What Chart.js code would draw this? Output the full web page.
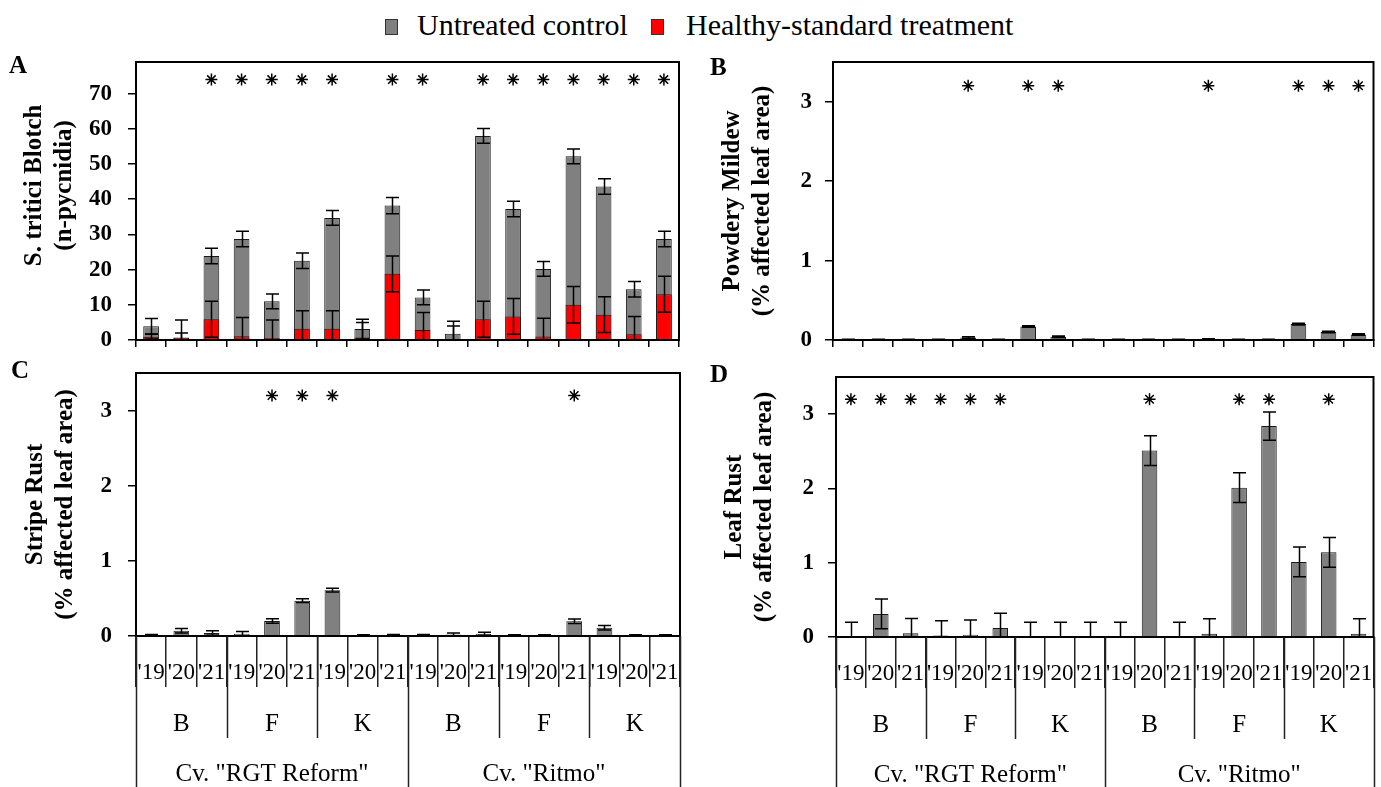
<!DOCTYPE html>
<html><head><meta charset="utf-8">
<script src="https://cdn.jsdelivr.net/npm/chart.js@4.4.0/dist/chart.umd.min.js"></script>
<style>
html,body{margin:0;padding:0;background:#fff;}
body{width:1381px;height:787px;overflow:hidden;position:relative;font-family:"Liberation Serif",serif;color:#000;}
canvas.cv{position:absolute;}
.pl{position:absolute;font-weight:bold;font-size:25px;line-height:24px;}
.sw{position:absolute;width:11px;height:14px;border:1px solid #333;top:19px;}
.lt{position:absolute;font-size:30px;line-height:32px;top:9px;white-space:nowrap;}
</style></head>
<body>
<div class="sw" style="left:385px;background:#808080"></div><div class="lt" style="left:417px">Untreated control</div>
<div class="sw" style="left:651px;background:#ff0000"></div><div class="lt" style="left:686px">Healthy-standard treatment</div>

<canvas id="cA" class="cv" style="left:0;top:40px" width="690" height="320"></canvas>
<canvas id="cB" class="cv" style="left:690px;top:40px" width="691" height="320"></canvas>
<canvas id="cC" class="cv" style="left:0;top:345px" width="690" height="442"></canvas>
<canvas id="cD" class="cv" style="left:690px;top:345px" width="691" height="442"></canvas>

<div class="pl" style="left:9px;top:53px">A</div>
<div class="pl" style="left:710px;top:55px">B</div>
<div class="pl" style="left:11px;top:358px">C</div>
<div class="pl" style="left:710px;top:362px">D</div>

<script>
// ---- categories ----
const years = ["'19", "'20", "'21"];
const locations = ["B", "F", "K"];
const cultivars = ['Cv. "RGT Reform"', 'Cv. "Ritmo"'];
const categories = [];
cultivars.forEach(() => locations.forEach(() => years.forEach(y => categories.push(y))));

// ---- A: S. tritici Blotch (n-pycnidia) ----
const stbControl    = [3.9, 0.7, 23.9, 28.7, 11.0, 22.5, 34.7, 3.1, 38.2, 12.1, 1.8, 58.0, 37.2, 20.2, 52.2, 43.6, 14.4, 28.7];
const stbControlErr = [2.2, 5.0, 2.2, 2.2, 2.1, 2.2, 2.1, 2.8, 2.3, 2.1, 3.5, 2.1, 2.2, 2.1, 2.1, 2.2, 2.2, 2.2];
const stbTreated    = [0.95, 0.6, 5.9, 1.1, 0.6, 3.2, 3.2, 0.7, 18.8, 2.85, 0.2, 5.9, 6.7, 1.0, 10.0, 7.2, 1.6, 13.0];
const stbTreatedErr = [0.7, 1.4, 5.1, 5.3, 5.1, 5.1, 5.1, 4.3, 5.1, 5.0, 3.8, 5.1, 5.1, 5.2, 5.2, 5.1, 5.1, 5.1];
const stbSig        = [0, 0, 1, 1, 1, 1, 1, 0, 1, 1, 0, 1, 1, 1, 1, 1, 1, 1];

// ---- B: Powdery Mildew (% affected leaf area) ----
const pmControl    = [0.005, 0.005, 0.005, 0.005, 0.03, 0.005, 0.17, 0.04, 0.005, 0.005, 0.005, 0.005, 0.012, 0.005, 0.005, 0.2, 0.1, 0.07];
const pmControlErr = [0.005, 0.005, 0.005, 0.005, 0.01, 0.005, 0.01, 0.01, 0.005, 0.005, 0.005, 0.005, 0.005, 0.005, 0.005, 0.01, 0.01, 0.01];
const pmTreated    = [0, 0, 0, 0, 0, 0, 0, 0, 0, 0, 0, 0, 0, 0, 0, 0, 0, 0];
const pmTreatedErr = [0, 0, 0, 0, 0, 0, 0, 0, 0, 0, 0, 0, 0, 0, 0, 0, 0, 0];
const pmSig        = [0, 0, 0, 0, 1, 0, 1, 1, 0, 0, 0, 0, 1, 0, 0, 1, 1, 1];

// ---- C: Stripe Rust (% affected leaf area) ----
const srControl    = [0.01, 0.07, 0.04, 0.03, 0.2, 0.47, 0.61, 0.01, 0.01, 0.01, 0.02, 0.03, 0.01, 0.01, 0.195, 0.11, 0.01, 0.01];
const srControlErr = [0.01, 0.03, 0.03, 0.03, 0.03, 0.025, 0.025, 0.005, 0.01, 0.01, 0.02, 0.02, 0.005, 0.005, 0.03, 0.03, 0.005, 0.005];
const srTreated    = [0, 0, 0, 0, 0, 0, 0, 0, 0, 0, 0, 0, 0, 0, 0, 0, 0, 0];
const srTreatedErr = [0, 0, 0, 0, 0, 0, 0, 0, 0, 0, 0, 0, 0, 0, 0, 0, 0, 0];
const srSig        = [0, 0, 0, 0, 1, 1, 1, 0, 0, 0, 0, 0, 0, 0, 1, 0, 0, 0];

// ---- D: Leaf Rust (% affected leaf area) ----
const lrControl    = [0.01, 0.31, 0.05, 0.02, 0.03, 0.12, 0.01, 0.01, 0.01, 0.01, 2.51, 0.01, 0.045, 2.01, 2.84, 1.01, 1.14, 0.045];
const lrControlErr = [0.19, 0.2, 0.2, 0.2, 0.2, 0.2, 0.19, 0.19, 0.19, 0.19, 0.2, 0.19, 0.2, 0.2, 0.19, 0.2, 0.2, 0.2];
const lrTreated    = [0, 0, 0, 0, 0, 0, 0, 0, 0, 0, 0, 0, 0, 0, 0, 0, 0, 0];
const lrTreatedErr = [0, 0, 0, 0, 0, 0, 0, 0, 0, 0, 0, 0, 0, 0, 0, 0, 0, 0];
const lrSig        = [1, 1, 1, 1, 1, 1, 0, 0, 0, 0, 1, 0, 0, 1, 1, 0, 1, 0];

const FONT = '"Liberation Serif", "Times New Roman", serif';
const NB = '\u00A0';

const errorBars = {
  id: 'errorBars',
  afterDatasetsDraw(chart) {
    const { ctx, chartArea: a, scales: { y } } = chart;
    ctx.save();
    ctx.beginPath();
    ctx.rect(a.left, a.top - 1, a.right - a.left, a.bottom - a.top + 1);
    ctx.clip();
    ctx.strokeStyle = '#000';
    ctx.lineWidth = 1.5;
    chart.data.datasets.forEach((ds, i) => {
      if (!ds.errors) return;
      const meta = chart.getDatasetMeta(i);
      meta.data.forEach((bar, j) => {
        const e = ds.errors[j];
        if (!e) return;
        const v = ds.data[j];
        const yt = y.getPixelForValue(v + e), yb = y.getPixelForValue(v - e);
        const x = Math.round(bar.x) + 0.5, hw = 6.5;
        ctx.beginPath();
        ctx.moveTo(x, yt); ctx.lineTo(x, yb);
        ctx.moveTo(x - hw, yt); ctx.lineTo(x + hw, yt);
        ctx.moveTo(x - hw, yb); ctx.lineTo(x + hw, yb);
        ctx.stroke();
      });
    });
    ctx.restore();
  }
};

const frame = {
  id: 'frame',
  afterDraw(chart) {
    const { ctx, chartArea: a } = chart;
    ctx.save();
    ctx.strokeStyle = '#000';
    ctx.lineWidth = 2;
    ctx.strokeRect(a.left, a.top, a.right - a.left, a.bottom - a.top);
    ctx.restore();
  }
};

const groupAxis = {
  id: 'groupAxis',
  afterDraw(chart) {
    const { ctx, scales: { x } } = chart;
    const n = categories.length;
    const step = x.getPixelForValue(1) - x.getPixelForValue(0);
    const edge = k => x.getPixelForValue(k) - step / 2;
    const top = x.top;
    const perCult = locations.length * years.length;
    ctx.save();
    ctx.strokeStyle = '#222';
    ctx.lineWidth = 1.5;
    for (let k = 0; k <= n; k += years.length) {
      const px = Math.round(edge(k)) + 0.5;
      ctx.beginPath();
      ctx.moveTo(px, top);
      ctx.lineTo(px, k % perCult === 0 ? x.bottom : top + 102);
      ctx.stroke();
    }
    ctx.fillStyle = '#000';
    ctx.font = '25px ' + FONT;
    ctx.textAlign = 'center';
    ctx.textBaseline = 'middle';
    cultivars.forEach((c, ci) => {
      locations.forEach((l, li) => {
        const s = (ci * locations.length + li) * years.length;
        const cx = (x.getPixelForValue(s) + x.getPixelForValue(s + years.length - 1)) / 2;
        ctx.fillText(l, cx, top + 88);
      });
      const s = ci * perCult;
      const cx = (x.getPixelForValue(s) + x.getPixelForValue(s + perCult - 1)) / 2;
      ctx.fillText(c, cx, top + 138);
    });
    ctx.restore();
  }
};

function makePanel(id, p) {
  const datasets = [
    { label: 'Untreated control', data: p.ctrl, errors: p.ctrlErr, backgroundColor: '#808080', borderColor: '#1a1a1a',
      borderWidth: 1, grouped: false, order: 2, barPercentage: 0.52, categoryPercentage: 1 },
    { label: 'Healthy-standard treatment', data: p.trt, errors: p.trtErr, backgroundColor: '#ff0000', borderColor: '#1a1a1a',
      borderWidth: 1, grouped: false, order: 1, barPercentage: 0.52, categoryPercentage: 1 },
    { type: 'line', label: 'significance', data: p.sig.map(s => s ? p.sigY : null), showLine: false,
      pointStyle: 'star', pointRadius: 6, pointBorderColor: '#000', pointBorderWidth: 1.5, order: 0 }
  ];
  const xScale = p.bottomLabels ? {
    grid: { offset: true, drawOnChartArea: false, tickLength: 51, color: '#222', lineWidth: 1.5 },
    border: { color: '#000', width: 2 },
    ticks: { autoSkip: false, maxRotation: 0, minRotation: 0, color: '#000', padding: -28, font: { family: FONT, size: 23 } },
    afterFit(s) { s.height = p.xH; s.paddingLeft = 0; s.paddingRight = 0; }
  } : {
    grid: { offset: true, drawOnChartArea: false, tickLength: 7, color: '#000', lineWidth: 1.5 },
    border: { color: '#000', width: 2 },
    ticks: { display: false },
    afterFit(s) { s.height = p.xH; s.paddingLeft = 0; s.paddingRight = 0; }
  };
  return new Chart(document.getElementById(id), {
    type: 'bar',
    data: { labels: categories, datasets },
    options: {
      responsive: false, animation: false,
      layout: { padding: p.pad },
      plugins: { legend: { display: false }, tooltip: { enabled: false } },
      scales: {
        x: xScale,
        y: {
          min: 0, max: p.max,
          ticks: { stepSize: p.step, includeBounds: false, color: '#000', padding: p.tickPad,
                   font: { family: FONT, size: 23, weight: 'bold' } },
          grid: { drawOnChartArea: false, tickLength: 8, color: '#000', lineWidth: 1.5 },
          border: { color: '#000', width: 2 },
          title: { display: true, text: p.title, color: '#000',
                   font: { family: FONT, size: 25, weight: 'bold', lineHeight: 1.22 },
                   padding: { top: p.titlePad, bottom: 0 } },
          afterFit(s) { s.width = p.yW; s.paddingTop = 0; s.paddingBottom = 0; }
        }
      }
    },
    plugins: p.bottomLabels ? [errorBars, frame, groupAxis] : [errorBars, frame]
  });
}

makePanel('cA', { ctrl: stbControl, ctrlErr: stbControlErr, trt: stbTreated, trtErr: stbTreatedErr, sig: stbSig, sigY: 74,
  max: 79, step: 10, title: [NB.repeat(5) + 'S. tritici Blotch', NB.repeat(5) + '(n-pycnidia)'],
  pad: { left: 0, right: 11, top: 22, bottom: 10 }, yW: 136, xH: 10, tickPad: 16, titlePad: 19 });
makePanel('cB', { ctrl: pmControl, ctrlErr: pmControlErr, trt: pmTreated, trtErr: pmTreatedErr, sig: pmSig, sigY: 3.2,
  max: 3.5, step: 1, title: ['Powdery Mildew', '(% affected leaf area)'],
  pad: { left: 0, right: 7, top: 22, bottom: 10 }, yW: 143, xH: 10, tickPad: 13, titlePad: 27 });
makePanel('cC', { ctrl: srControl, ctrlErr: srControlErr, trt: srTreated, trtErr: srTreatedErr, sig: srSig, sigY: 3.2,
  max: 3.5, step: 1, title: ['Stripe Rust', '(% affected leaf area)'], bottomLabels: true,
  pad: { left: 0, right: 10, top: 28, bottom: 0 }, yW: 136, xH: 151, tickPad: 16, titlePad: 20 });
makePanel('cD', { ctrl: lrControl, ctrlErr: lrControlErr, trt: lrTreated, trtErr: lrTreatedErr, sig: lrSig, sigY: 3.2,
  max: 3.5, step: 1, title: ['Leaf Rust', '(% affected leaf area)'], bottomLabels: true,
  pad: { left: 0, right: 6, top: 32, bottom: 0 }, yW: 146, xH: 150, tickPad: 14, titlePad: 29 });
</script>
</body></html>
